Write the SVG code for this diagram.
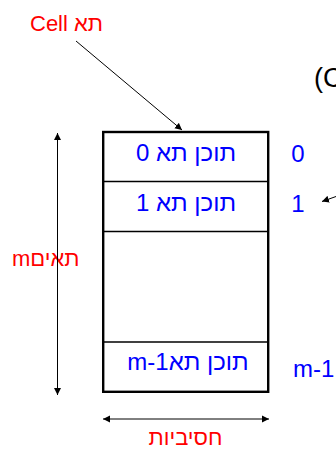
<svg xmlns="http://www.w3.org/2000/svg" width="336" height="451" viewBox="0 0 336 451">
<defs>
<style>
text{font-family:"Liberation Sans",Arial,sans-serif;font-size:22px}
.red{fill:#ff0000}
.blue{fill:#0000ff;font-size:24px}
.blk{fill:#000}
.ln{stroke:#000;stroke-width:1;fill:none}
</style>
<marker id="ah" markerWidth="8" markerHeight="8" refX="7" refY="4" orient="auto-start-reverse" markerUnits="userSpaceOnUse">
<path d="M0,0.5 L7,4 L0,7.5 Z" fill="#000"/>
</marker>
</defs>
<rect width="336" height="451" fill="#fff"/>
<g id="array">
<rect x="103.2" y="132" width="165" height="259.8" fill="none" stroke="#000" stroke-width="2.4"/>
<line x1="103" y1="181.5" x2="268" y2="181.5" stroke="#000" stroke-width="1.3"/>
<line x1="103" y1="231.5" x2="268" y2="231.5" stroke="#000" stroke-width="1.3"/>
<line x1="103" y1="342" x2="268" y2="342" stroke="#000" stroke-width="1.3"/>
</g>
<g id="cell0"><text class="blue" x="186" y="161" text-anchor="middle">תוכן תא 0</text></g>
<g id="cell1"><text class="blue" x="186" y="211" text-anchor="middle">תוכן תא 1</text></g>
<g id="cellm1"><text class="blue" x="188" y="370" text-anchor="middle">m-1תוכן תא</text></g>
<g id="idx0"><text class="blue" x="298" y="161.5" text-anchor="middle">0</text></g>
<g id="idx1"><text class="blue" x="298" y="211.5" text-anchor="middle">1</text></g>
<g id="idxm1"><text class="blue" x="293" y="376.5">m-1</text></g>
<g id="celllabel"><text class="red" x="30" y="30.7">Cell תא</text></g>
<g id="cells"><text class="red" x="12" y="266">mתאים</text></g>
<g id="bits"><text class="red" x="185.5" y="445" text-anchor="middle">חסיביות</text></g>
<g id="paren"><text class="blk" x="314" y="87" style="font-size:27px">(C</text></g>
<g id="connectors">
<line class="ln" x1="76" y1="41" x2="182" y2="130" marker-end="url(#ah)"/>
<line class="ln" x1="57.5" y1="133" x2="57.5" y2="395" marker-start="url(#ah)" marker-end="url(#ah)"/>
<line class="ln" x1="103" y1="419" x2="269" y2="419" marker-start="url(#ah)" marker-end="url(#ah)"/>
<line class="ln" x1="336" y1="196.5" x2="322" y2="201.5" marker-end="url(#ah)"/>
</g>
</svg>
